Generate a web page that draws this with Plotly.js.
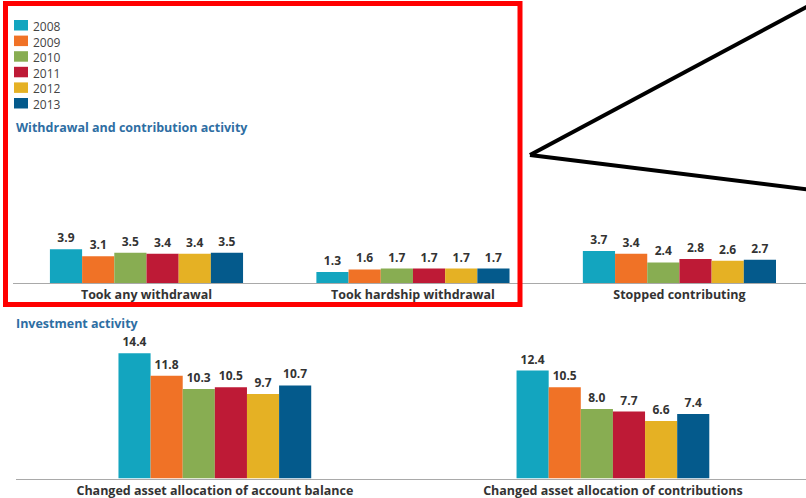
<!DOCTYPE html>
<html>
<head>
<meta charset="utf-8">
<script src="https://cdn.plot.ly/plotly-3.0.1.min.js"></script>
<style>
  html, body { margin: 0; padding: 0; background: #ffffff; }
  #chart { width: 806px; height: 498px; }
</style>
</head>
<body>
<div id="chart"></div>
<script>
// ---- Data ----
const years = ['2008', '2009', '2010', '2011', '2012', '2013'];
const yearColors = ['#13a5bf', '#f07226', '#88ad52', '#be1a36', '#e5b124', '#045a8c'];

const withdrawalCategories = ['Took any withdrawal', 'Took hardship withdrawal', 'Stopped contributing'];
const investmentCategories = ['Changed asset allocation of account balance', 'Changed asset allocation of contributions'];

// Withdrawal and contribution activity (percent), per year
const withdrawal2008 = [3.9, 1.3, 3.7];
const withdrawal2009 = [3.1, 1.6, 3.4];
const withdrawal2010 = [3.5, 1.7, 2.4];
const withdrawal2011 = [3.4, 1.7, 2.8];
const withdrawal2012 = [3.4, 1.7, 2.6];
const withdrawal2013 = [3.5, 1.7, 2.7];

// Investment activity (percent), per year
const investment2008 = [14.4, 12.4];
const investment2009 = [11.8, 10.5];
const investment2010 = [10.3, 8.0];
const investment2011 = [10.5, 7.7];
const investment2012 = [9.7, 6.6];
const investment2013 = [10.7, 7.4];

const withdrawalSeries = [withdrawal2008, withdrawal2009, withdrawal2010, withdrawal2011, withdrawal2012, withdrawal2013];
const investmentSeries = [investment2008, investment2009, investment2010, investment2011, investment2012, investment2013];

// ---- Layout helpers (pixel -> paper) ----
const W = 806, H = 498;
const px = x => x / W;
const py = y => 1 - y / H;

const FONT = 'Open Sans, DejaVu Sans, sans-serif';
const labelFont = { family: FONT, size: 12, color: '#333333', weight: 700 };

const topBarW = 0.1208;    // category units on top axis
const botBarW = 0.0807;    // category units on bottom axis

const traces = [];
years.forEach((yr, i) => {
  traces.push({
    type: 'bar', name: yr, x: withdrawalCategories, y: withdrawalSeries[i],
    xaxis: 'x', yaxis: 'y',
    width: topBarW, offset: -3 * topBarW + i * topBarW,
    marker: { color: yearColors[i] },
    texttemplate: '%{y:.1f}', textposition: 'outside', cliponaxis: false,
    textfont: labelFont, hoverinfo: 'skip', showlegend: false
  });
  traces.push({
    type: 'bar', name: yr, x: investmentCategories, y: investmentSeries[i],
    xaxis: 'x2', yaxis: 'y2',
    width: botBarW, offset: -3 * botBarW + i * botBarW,
    marker: { color: yearColors[i] },
    texttemplate: '%{y:.1f}', textposition: 'outside', cliponaxis: false,
    textfont: labelFont, hoverinfo: 'skip', showlegend: false
  });
});

const tickFont = { family: FONT, size: 12.5, color: '#333333', weight: 700 };
const scale = 8.7; // px per percentage point

const shapes = [];
const annotations = [];

// manual legend: swatches + one text block (line spacing = 1.3 * 12px)
const legendStep = 15.6;
years.forEach((yr, i) => {
  const top = 20 + i * legendStep;
  shapes.push({ type: 'rect', xref: 'paper', yref: 'paper',
    x0: px(14), x1: px(28), y0: py(top), y1: py(top + 10.5),
    fillcolor: yearColors[i], line: { width: 0 } });
});
annotations.push({ xref: 'paper', yref: 'paper', x: px(32), y: py(17),
  xanchor: 'left', yanchor: 'top', align: 'left', showarrow: false,
  text: years.join('<br>'), borderpad: 0,
  font: { family: FONT, size: 12, color: '#444444' } });

// section titles
annotations.push({ xref: 'paper', yref: 'paper', x: px(14), y: py(128),
  xanchor: 'left', yanchor: 'middle', showarrow: false,
  text: 'Withdrawal and contribution activity',
  font: { family: FONT, size: 12.5, color: '#2e6ea3', weight: 700 } });
annotations.push({ xref: 'paper', yref: 'paper', x: px(14), y: py(323),
  xanchor: 'left', yanchor: 'middle', showarrow: false,
  text: 'Investment activity',
  font: { family: FONT, size: 12.5, color: '#2e6ea3', weight: 700 } });

// red highlight box
shapes.push({ type: 'rect', xref: 'paper', yref: 'paper',
  x0: px(5.5), x1: px(520), y0: py(3.5), y1: py(304.5),
  line: { color: '#ff0000', width: 5 }, fillcolor: 'rgba(0,0,0,0)' });

// black callout lines
shapes.push({ type: 'line', xref: 'paper', yref: 'paper',
  x0: px(530), y0: py(155), x1: px(812), y1: py(4),
  line: { color: '#000000', width: 4 } });
shapes.push({ type: 'line', xref: 'paper', yref: 'paper',
  x0: px(530), y0: py(155), x1: px(812), y1: py(190),
  line: { color: '#000000', width: 4 } });

const topBase = 283.3, topTop = 140;
const botBase = 478.5, botTop = 330;

const layout = {
  width: W, height: H,
  margin: { l: 0, r: 0, t: 0, b: 0 },
  paper_bgcolor: '#ffffff', plot_bgcolor: 'rgba(0,0,0,0)',
  showlegend: false,
  barmode: 'group',
  xaxis: {
    domain: [px(13.25), 1], range: [-0.5, 2.475], type: 'category',
    showline: true, linecolor: '#a9a9a9', linewidth: 1,
    showgrid: false, zeroline: false, ticks: '', tickfont: tickFont,
    ticklabelstandoff: 0, anchor: 'y', fixedrange: true
  },
  yaxis: {
    domain: [py(topBase), py(topTop)], range: [0, (topBase - topTop) / scale],
    visible: false, showgrid: false, zeroline: false, anchor: 'x', fixedrange: true
  },
  xaxis2: {
    domain: [px(15.8), 1], range: [-0.5, 1.485], type: 'category',
    showline: true, linecolor: '#a9a9a9', linewidth: 1,
    showgrid: false, zeroline: false, ticks: '', tickfont: tickFont,
    ticklabelstandoff: 0, anchor: 'y2', fixedrange: true
  },
  yaxis2: {
    domain: [py(botBase), py(botTop)], range: [0, (botBase - botTop) / scale],
    visible: false, showgrid: false, zeroline: false, anchor: 'x2', fixedrange: true
  },
  shapes: shapes,
  annotations: annotations
};

Plotly.newPlot('chart', traces, layout, { displayModeBar: false, staticPlot: true });
</script>
</body>
</html>
